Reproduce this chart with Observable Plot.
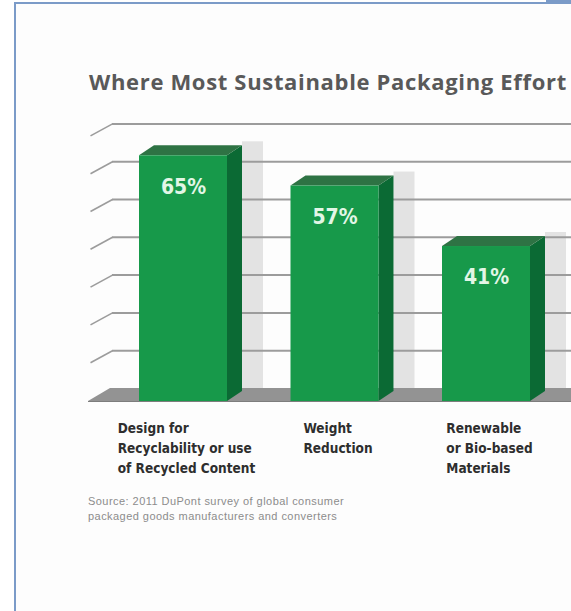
<!DOCTYPE html>
<html>
<head>
<meta charset="utf-8">
<script src="https://cdn.jsdelivr.net/npm/d3@7"></script>
<script src="https://cdn.jsdelivr.net/npm/@observablehq/plot@0.6"></script>
<style>
  html, body { margin: 0; padding: 0; background: #ffffff; width: 571px; height: 611px; overflow: hidden; }
  #frame { position: absolute; left: 14px; top: 2px; width: 620px; height: 640px;
           border-top: 2px solid #7b9bc8; border-left: 2px solid #7b9bc8; background: #fdfdfd; }
  #corner { position: absolute; left: 546px; top: 0; width: 40px; height: 4px; background: #7b9bc8; }
  #title { position: absolute; left: 89px; top: 66px; white-space: nowrap;
           font-family: "Open Sans", "Noto Sans", sans-serif; font-weight: 700; font-size: 22px;
           color: #595959; }
  #chart { position: absolute; left: 0; top: 110px; }
  #source { position: absolute; left: 88px; top: 494px; white-space: nowrap;
            font-family: "Liberation Sans", Arial, sans-serif; font-size: 11px; line-height: 14.5px;
            letter-spacing: 0.45px; color: #8c8c8c; }
</style>
</head>
<body>
<div id="frame"></div>
<div id="corner"></div>
<div id="title"></div>
<div id="chart"></div>
<div id="source"></div>
<script>
// ---- data ----
const titleText = "Where Most Sustainable Packaging Effort";
const categories = [
  "Design for\nRecyclability or use\nof Recycled Content",
  "Weight\nReduction",
  "Renewable\nor Bio-based\nMaterials"
];
const values = [65, 57, 41];
const gridLevels = [10, 20, 30, 40, 50, 60, 70];
const sourceLines = [
  "Source: 2011 DuPont survey of global consumer",
  "packaged goods manufacturers and converters"
];

// ---- styling / geometry constants (pixels) ----
const K = 3.78;          // px per percentage point
const STEP = 151.5;      // px per category slot
const X0 = 183;          // page x of the first bar centre
const FLOOR = 291;       // svg y of the floor front edge
const W = 571, H = 380;
const px = p => (p - X0) / STEP;    // page x -> x units
const hw = 44 / STEP;               // half bar width
const bdx = 15 / STEP, bdy = 10 / K; // bar depth
const wdy = 13 / K;                 // wall offset
const condensed = "'Liberation Sans Narrow', 'DejaVu Sans Condensed', Roboto, sans-serif";

const ctx = document.createElement("canvas").getContext("2d");

// title: adjust letter spacing so it spans the same width as the original
const titleEl = document.getElementById("title");
titleEl.textContent = titleText;
ctx.font = "bold 22px 'Open Sans', 'Noto Sans', sans-serif";
const tw = ctx.measureText(titleText).width;
titleEl.style.letterSpacing = ((478 - tw) / titleText.length).toFixed(2) + "px";

document.getElementById("source").innerHTML = sourceLines.join("<br>");

const bars = categories.map((c, i) => ({i, c, v: values[i]}));

const sides = bars.flatMap(d => [
  {i: d.i, x: d.i + hw, y1: 0, y2: d.v},
  {i: d.i, x: d.i + hw + bdx, y1: bdy, y2: d.v + bdy}
]);
const tops = bars.flatMap(d => [
  {i: d.i, x: d.i - hw, y1: d.v, y2: d.v},
  {i: d.i, x: d.i - hw + bdx, y1: d.v, y2: d.v + bdy},
  {i: d.i, x: d.i + hw, y1: d.v, y2: d.v + bdy},
  {i: d.i, x: d.i + hw + bdx, y1: d.v + bdy, y2: d.v + bdy}
]);
const floor = [
  {x: px(88), y1: 0, y2: 0},
  {x: px(110), y1: 0, y2: wdy},
  {x: px(620), y1: 0, y2: wdy}
];

// measure label blocks so each is centred under its bar
const labelFont = `bold 13.5px ${condensed}`;
ctx.font = labelFont;
const blockWidth = s => Math.max(...s.split("\n").map(l => ctx.measureText(l).width));

const labelMarks = bars.map(d => Plot.text([d], {
  x: "i", y: 0, text: "c", textAnchor: "start", lineAnchor: "top",
  dy: 17, dx: -blockWidth(d.c) / 2 + 3, lineHeight: 1.48,
  fontSize: 13.5, fontWeight: "bold", fontFamily: condensed, fill: "#2e2e2e"
}));

const chart = Plot.plot({
  width: W, height: H,
  margin: 0,
  style: {background: "transparent", overflow: "visible"},
  x: {type: "linear", domain: [px(0), px(W)], range: [0, W], axis: null},
  y: {type: "linear", domain: [0, 76], range: [FLOOR, FLOOR - 76 * K], axis: null},
  marks: [
    // shadows on back wall
    Plot.rect(bars, {x1: d => d.i + hw + bdx, x2: d => d.i + hw + bdx + 21 / STEP,
                     y1: wdy, y2: d => d.v + bdy + 4 / K, fill: "#e3e3e3"}),
    // wall grid lines
    Plot.ruleY(gridLevels, {y: d => d + wdy, x1: px(112), x2: px(620), stroke: "#9c9c9c", strokeWidth: 2}),
    // oblique left edge ticks
    Plot.link(gridLevels, {x1: px(90), y1: d => d + wdy - 12 / K, x2: px(112), y2: d => d + wdy,
                           stroke: "#9c9c9c", strokeWidth: 1.6}),
    // floor
    Plot.areaY(floor, {x: "x", y1: "y1", y2: "y2", fill: "#939393"}),
    Plot.ruleY([0], {x1: px(88), x2: px(620), stroke: "#7d7d7d", strokeWidth: 1}),
    // bar faces
    Plot.areaY(sides, {x: "x", y1: "y1", y2: "y2", z: "i", fill: "#0b6a34"}),
    Plot.areaY(tops, {x: "x", y1: "y1", y2: "y2", z: "i", fill: "#2e7344"}),
    Plot.rect(bars, {x1: d => d.i - hw, x2: d => d.i + hw, y1: 0, y2: "v", fill: "#17994a"}),
    // value labels
    Plot.text(bars, {x: "i", y: "v", dy: 31, text: d => `${d.v}%`, fill: "#e2f6e6",
                     fontSize: 21, fontWeight: "bold", fontFamily: condensed}),
    ...labelMarks
  ]
});
document.getElementById("chart").appendChild(chart);
</script>
</body>
</html>
